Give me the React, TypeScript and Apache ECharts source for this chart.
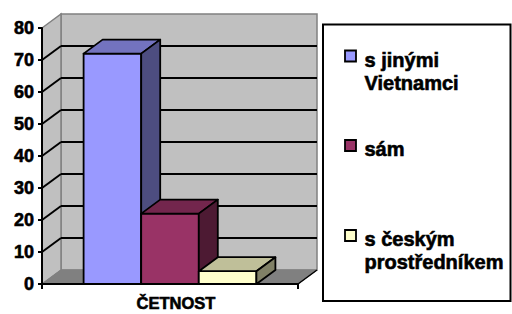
import React, { useEffect, useRef } from "react";
import * as echarts from "echarts";

const categories = ["ČETNOST"];
const seriesNames = ["s jinými Vietnamci", "sám", "s českým prostředníkem"];
const seriesValues = [72, 22, 4];
const yTicks = [0, 10, 20, 30, 40, 50, 60, 70, 80];
const legendLines = [["s jinými", "Vietnamci"], ["sám"], ["s českým", "prostředníkem"]];

const frontColors = ["#9999FF", "#993366", "#FFFFCC"];
const topColors = ["#7373BF", "#73264D", "#BFBF99"];
const sideColors = ["#4D4D80", "#4D1A33", "#808066"];

const DX = 19;
const DY = -14;
const FONT = "Liberation Sans, Arial, sans-serif";

export default function App() {
  const ref = useRef<HTMLDivElement>(null);
  useEffect(() => {
    if (!ref.current) return;
    const chart = echarts.init(ref.current, null, { renderer: "svg" });
    const yMax = yTicks[yTicks.length - 1];

    const wallsSeries: any = {
      type: "custom",
      name: "walls",
      coordinateSystem: "cartesian2d",
      silent: true,
      data: [[0, 0]],
      renderItem: (params: any, api: any) => {
        const cs = params.coordSys;
        const yTop = api.coord([0, yMax])[1];
        const yBot = api.coord([0, 0])[1];
        const xl = cs.x;
        const xr = cs.x + cs.width;
        return {
          type: "group",
          children: [
            {
              type: "polygon",
              shape: { points: [[xl + DX, yTop + DY], [xr + DX, yTop + DY], [xr + DX, yBot + DY], [xl + DX, yBot + DY]] },
              style: { fill: "#C0C0C0", stroke: "#808080", lineWidth: 1.5 },
            },
            {
              type: "polygon",
              shape: { points: [[xl, yTop], [xl + DX, yTop + DY], [xl + DX, yBot + DY], [xl, yBot]] },
              style: { fill: "#C0C0C0", stroke: "#808080", lineWidth: 1.5 },
            },
            {
              type: "polygon",
              shape: { points: [[xl, yBot], [xr, yBot], [xr + DX, yBot + DY], [xl + DX, yBot + DY]] },
              style: { fill: "#808080", stroke: "#808080", lineWidth: 1 },
            },
            {
              type: "line",
              shape: { x1: xr, y1: yBot, x2: xr + DX, y2: yBot + DY },
              style: { stroke: "#000", lineWidth: 1.5 },
            },
          ],
        };
      },
    };

    const gridSeries: any = {
      type: "custom",
      name: "gridlines",
      coordinateSystem: "cartesian2d",
      silent: true,
      data: yTicks.filter((t) => t > 0 && t < yMax).map((t) => [0, t]),
      renderItem: (params: any, api: any) => {
        const cs = params.coordSys;
        const y = api.coord([0, api.value(1)])[1];
        const xl = cs.x;
        const xr = cs.x + cs.width;
        return {
          type: "group",
          children: [
            { type: "line", shape: { x1: xl, y1: y, x2: xl + DX, y2: y + DY }, style: { stroke: "#000", lineWidth: 2 } },
            { type: "line", shape: { x1: xl + DX, y1: y + DY, x2: xr + DX, y2: y + DY }, style: { stroke: "#000", lineWidth: 2 } },
          ],
        };
      },
    };

    const barSeries = seriesNames.map((name, i) => ({
      type: "custom",
      name,
      coordinateSystem: "cartesian2d",
      data: [[0, seriesValues[i]]],
      renderItem: (params: any, api: any) => {
        const band = api.size([1, 0])[0];
        const bw = band * 0.225;
        const top = api.coord([api.value(0), api.value(1)]);
        const base = api.coord([api.value(0), 0]);
        const x0 = top[0] + (i - 1.5) * bw;
        const x1 = x0 + bw;
        const yT = top[1];
        const yB = base[1];
        const st = { stroke: "#000", lineWidth: 1.8, lineJoin: "round" };
        return {
          type: "group",
          children: [
            { type: "polygon", shape: { points: [[x0, yT], [x1, yT], [x1, yB], [x0, yB]] }, style: { ...st, fill: frontColors[i] } },
            { type: "polygon", shape: { points: [[x0, yT], [x1, yT], [x1 + DX, yT + DY], [x0 + DX, yT + DY]] }, style: { ...st, fill: topColors[i] } },
            { type: "polygon", shape: { points: [[x1, yT], [x1 + DX, yT + DY], [x1 + DX, yB + DY], [x1, yB]] }, style: { ...st, fill: sideColors[i] } },
          ],
        };
      },
    }));

    const legendX = 323;
    const legendY = 24.5;
    const textCenters = [59.5, 149, 239];
    const legendChildren: any[] = [
      { type: "rect", shape: { x: legendX, y: legendY, width: 187.5, height: 276.5 }, style: { fill: "#fff", stroke: "#000", lineWidth: 2 } },
    ];
    legendLines.forEach((lines, i) => {
      const cy = textCenters[i];
      legendChildren.push({
        type: "rect",
        shape: { x: 345, y: cy - 9, width: 11, height: 11 },
        style: { fill: frontColors[i], stroke: "#000", lineWidth: 1.8 },
      });
      lines.forEach((ln, j) => {
        legendChildren.push({
          type: "text",
          x: 364.5,
          y: cy + j * 23,
          style: {
            text: ln,
            fontFamily: FONT,
            fontWeight: "bold",
            fontSize: 20,
            fill: "#000",
            stroke: "#000",
            lineWidth: 0.6,
            verticalAlign: "middle",
            align: "left",
          },
        });
      });
    });

    const option: any = {
      animation: false,
      backgroundColor: "#fff",
      grid: { left: 42, top: 28, width: 256, height: 256, containLabel: false },
      xAxis: {
        type: "category",
        data: categories,
        z: 5,
        axisLine: { lineStyle: { color: "#000", width: 2 } },
        axisTick: { show: true, length: 5, lineStyle: { color: "#000", width: 2 } },
        axisLabel: {
          fontFamily: FONT,
          fontWeight: "bold",
          fontSize: 16.5,
          color: "#000",
          textBorderColor: "#000",
          textBorderWidth: 0.6,
          margin: 10,
          padding: [0, 0, 0, 12],
        },
      },
      yAxis: {
        type: "value",
        min: 0,
        max: 80,
        interval: 10,
        z: 5,
        splitLine: { show: false },
        axisLine: { show: true, lineStyle: { color: "#000", width: 2 } },
        axisTick: { show: true, length: 4, lineStyle: { color: "#000", width: 2 } },
        axisLabel: {
          fontFamily: FONT,
          fontWeight: "bold",
          fontSize: 18,
          color: "#000",
          textBorderColor: "#000",
          textBorderWidth: 0.6,
          margin: 8,
        },
      },
      series: [wallsSeries, gridSeries, ...barSeries],
      graphic: [{ type: "group", children: legendChildren }],
    };
    chart.setOption(option);
    return () => chart.dispose();
  }, []);
  return <div ref={ref} style={{ position: "fixed", left: 0, top: 0, width: 512, height: 314, background: "#fff" }} />;
}
